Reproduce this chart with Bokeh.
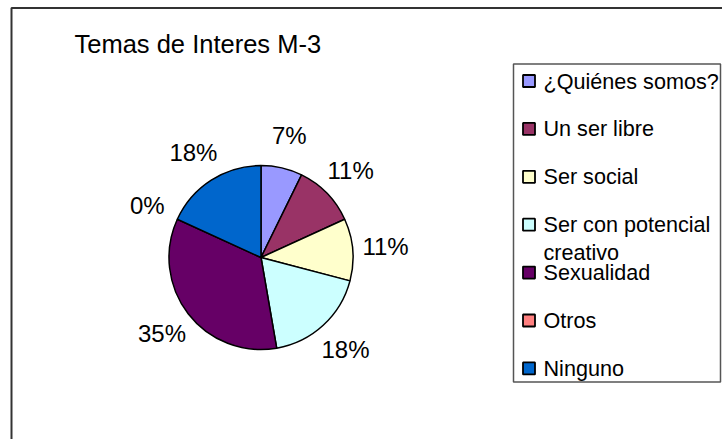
import math
import textwrap
from bokeh.plotting import figure
from bokeh.models import Range1d, ColumnDataSource
from bokeh.core.properties import value
from bokeh.embed import file_html
from bokeh.resources import INLINE

# ---- data ----
title = "Temas de Interes M-3"
categories = ["¿Quiénes somos?", "Un ser libre", "Ser social",
              "Ser con potencial creativo", "Sexualidad", "Otros", "Ninguno"]
counts = [4, 6, 6, 10, 19, 0, 10]
colors = ["#9999FF", "#993366", "#FFFFCC", "#CCFFFF", "#660066", "#FF8080", "#0066CC"]

FONT = value("Liberation Sans")

# ---- layout (screen pixel coordinates; data y = -screen y) ----
W, H = 722, 439
p = figure(width=W, height=H, x_range=Range1d(0, W), y_range=Range1d(-H, 0),
           output_backend="svg", toolbar_location=None, min_border=0)
p.axis.visible = False
p.grid.visible = False
p.outline_line_color = None
p.background_fill_color = "white"
p.border_fill_color = "white"

# outer chart frame (only top and left edges visible in the window)
p.line(x=[11, 11, 740], y=[-460, -7.5, -7.5], line_color="#333333", line_width=2)

# title
p.text(x=[74], y=[-43], text=[title], text_font=FONT, text_font_size="25.5px",
       text_color="black", text_align="left", text_baseline="alphabetic")

# ---- pie ----
cx, cy, r = 260.5, -257.0, 92.0
total = float(sum(counts))
fracs = [c / total for c in counts]
cum = [0.0]
for f in fracs:
    cum.append(cum[-1] + f)
start = [math.radians(90 - cum[i + 1] * 360) for i in range(len(counts))]
end = [math.radians(90 - cum[i] * 360) for i in range(len(counts))]
keep = [i for i in range(len(counts)) if counts[i] > 0]
src = ColumnDataSource(dict(
    start=[start[i] for i in keep], end=[end[i] for i in keep],
    color=[colors[i] for i in keep]))
p.wedge(x=cx, y=cy, radius=r, start_angle="start", end_angle="end",
        direction="anticlock", fill_color="color", line_color="black",
        line_width=1.5, source=src)

# percentage labels
lab_r = 125.0
lx, ly, lt = [], [], []
for i in range(len(counts)):
    mid = (cum[i] + cum[i + 1]) / 2 * 2 * math.pi
    lx.append(cx + lab_r * math.sin(mid))
    ly.append(cy + lab_r * math.cos(mid))
    lt.append(f"{round(fracs[i] * 100)}%")
p.text(x=lx, y=ly, text=lt, text_font=FONT, text_font_size="24px",
       text_color="black", text_align="center", text_baseline="middle")

# ---- legend (drawn manually) ----
lg_left, lg_top, lg_right, lg_bottom = 513, 63.5, 720, 381.5
p.quad(left=[lg_left], right=[lg_right], top=[-lg_top], bottom=[-lg_bottom],
       fill_color="white", line_color="#555555", line_width=1.5)
step = 47.9
first_y = 80.5
sw_x, sw_size, txt_x = 528.5, 12, 543
ys = [-(first_y + i * step) for i in range(len(categories))]
p.rect(x=[sw_x] * len(categories), y=ys, width=sw_size, height=sw_size,
       fill_color=colors, line_color="black", line_width=1.8)
tx, ty, tt = [], [], []
for i, name in enumerate(categories):
    lines = textwrap.wrap(name, 17)
    for k, ln in enumerate(lines):
        tx.append(txt_x)
        ty.append(ys[i] - k * 28)
        tt.append(ln)
p.text(x=tx, y=ty, text=tt, text_font=FONT, text_font_size="21.6px",
       text_color="black", text_align="left", text_baseline="middle")

open("out.html", "w").write(file_html(p, INLINE))
